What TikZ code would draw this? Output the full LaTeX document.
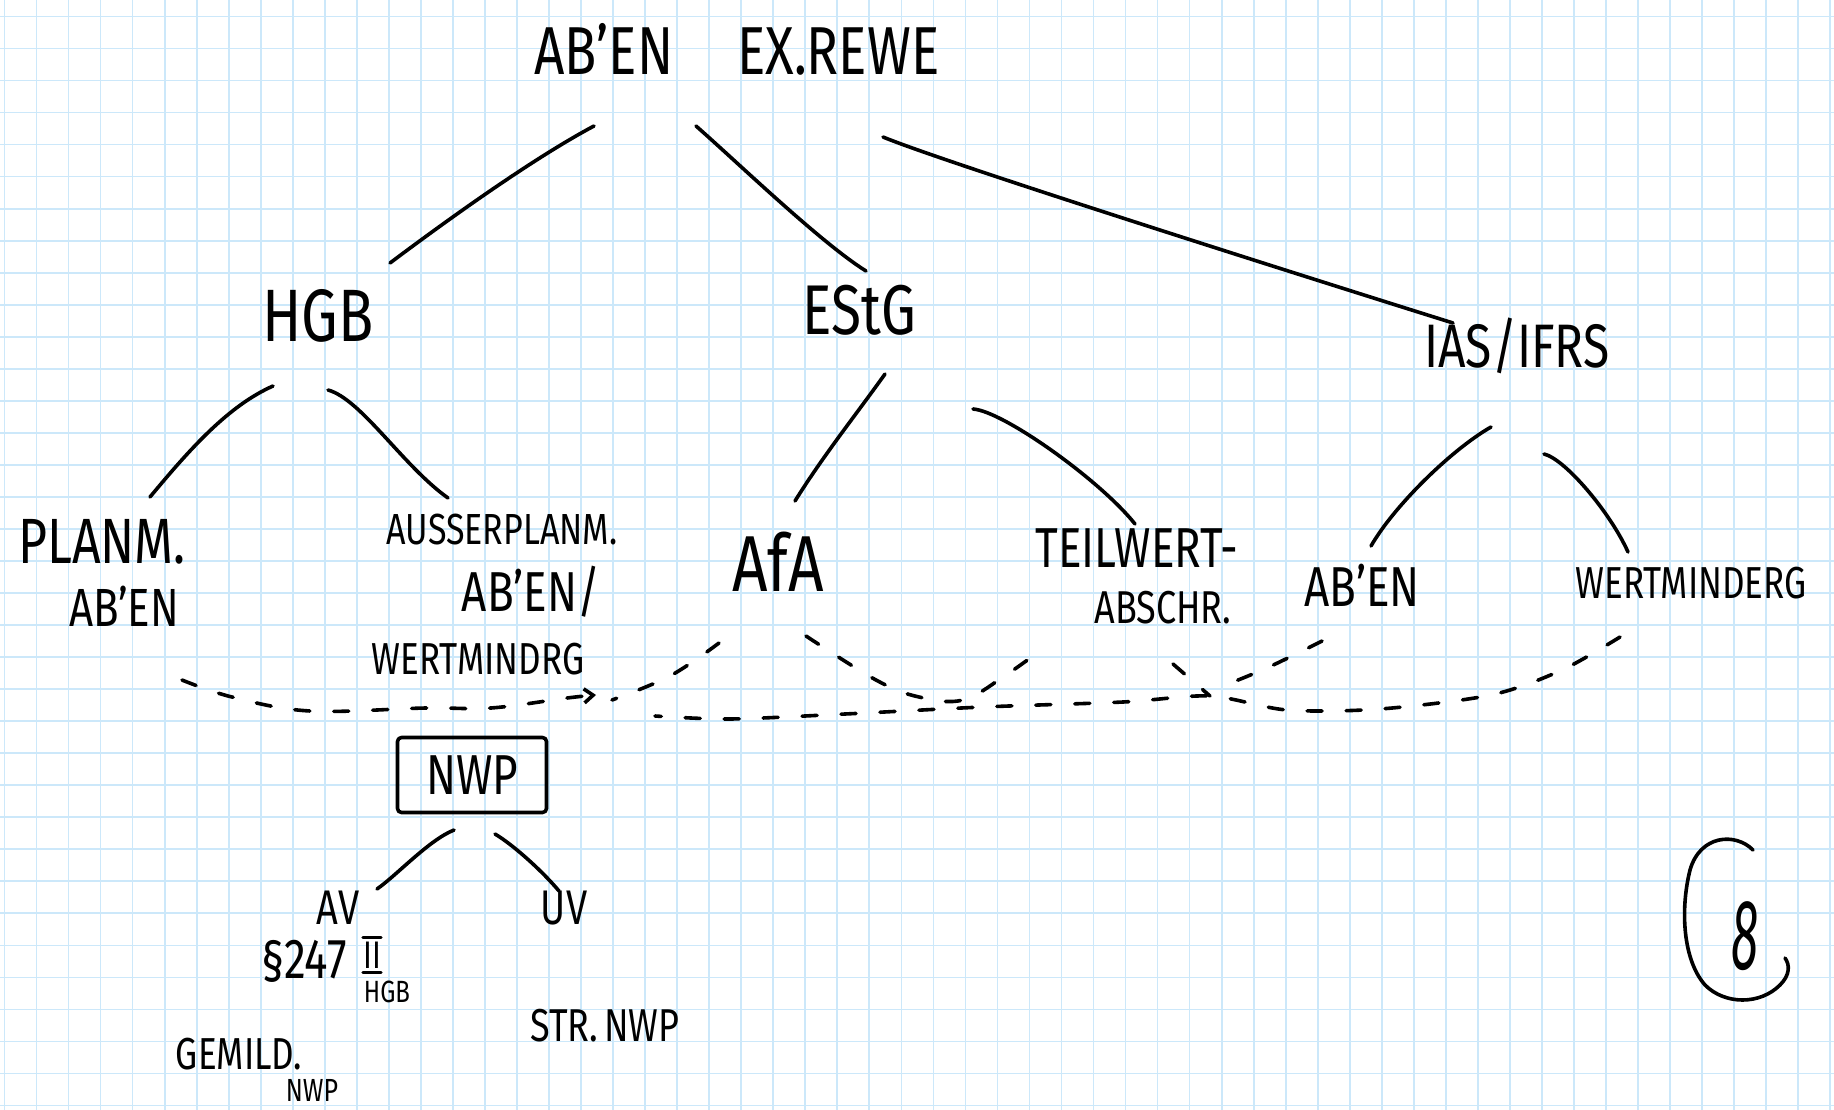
\documentclass[tikz,border=0pt]{standalone}
\usepackage{fontspec}
\setmainfont{Fira Sans}
\usetikzlibrary{calc,arrows.meta}
\definecolor{gridblue}{RGB}{204,232,250}
\newcommand\hw[1]{\scalebox{1}[1.28]{#1}}
\tikzset{
  pen/.style={line width=3.6pt, line cap=round, line join=round, draw=black},
  dashpen/.style={pen, dash pattern=on 15pt off 24pt},
  lbl/.style={inner sep=0pt, text=black, anchor=center},
  fs/.style={font=\fontsize{#1}{#1}\selectfont},
}
\begin{document}
\begin{tikzpicture}[x=1pt,y=-1pt]
\useasboundingbox (0,0) rectangle (1834,1110);
\fill[white] (0,0) rectangle (1834,1110);
\foreach \k in {0,...,57} \draw[gridblue, line width=1.7pt] ({4.5+32.03*\k},0) -- ({4.5+32.03*\k},1110);
\foreach \k in {0,...,34} \draw[gridblue, line width=1.7pt] (0,{16.5+32.03*\k}) -- (1834,{16.5+32.03*\k});

% nodes
\node[lbl,fs=53] (title) at (737,49) {\hw{AB'EN\hspace{64pt}EX.REWE}};
\node[lbl,fs=58] (hgb) at (318,316) {\hw{HGB}};
\node[lbl,fs=55] (estg) at (859,310) {\hw{EStG}};
\node[lbl,fs=48] (ias) at (1517,346) {\hw{IAS/IFRS}};
\node[lbl,fs=50] (planm) at (102,542) {\hw{PLANM.}};
\node[lbl,fs=42] (planm2) at (124,606) {\hw{AB'EN}};
\node[lbl,fs=34] (ausser) at (502,530) {\hw{AUSSERPLANM.}};
\node[lbl,fs=44] (ausser2) at (531,592) {\hw{AB'EN/}};
\node[lbl,fs=35] (ausser3) at (478,659) {\hw{WERTMINDRG}};
\node[lbl,fs=62] (afa) at (778,562) {\hw{AfA}};
\node[lbl,fs=44] (teil) at (1137,548) {\hw{TEILWERT-}};
\node[lbl,fs=36] (teil2) at (1163,608) {\hw{ABSCHR.}};
\node[lbl,fs=44] (ab2) at (1362,585) {\hw{AB'EN}};
\node[lbl,fs=35] (wert) at (1691,583) {\hw{WERTMINDERG}};
\node[pen,lbl,fs=44,minimum width=149pt,minimum height=75pt,rounded corners=4pt] (nwp) at (472,775) {\hw{NWP}};
\node[lbl,fs=38] (av) at (338,908) {\hw{AV}};
\node[lbl,fs=38] (uv) at (564,908) {\hw{UV}};
\node[lbl,fs=44] (para) at (304,961) {\hw{§247}};
\node[lbl,fs=30,inner ysep=4pt] (rom) at (372,955) {\hw{II}};
\draw[line width=3pt,line cap=round] (rom.north west) -- (rom.north east);
\draw[line width=3pt,line cap=round] (rom.south west) -- (rom.south east);
\node[lbl,fs=24] (hgbs) at (387,992) {\hw{HGB}};
\node[lbl,fs=35] (gemild) at (239,1054) {\hw{GEMILD.}};
\node[lbl,fs=25] (nwps) at (312,1090) {\hw{NWP}};
\node[lbl,fs=36] (str) at (605,1026) {\hw{STR.\,NWP}};
\node[lbl,fs=100] (eight) at (1745,936) {\itshape\scalebox{0.5}[1]{8}};

% tree connectors
\draw[pen] ($(title)+(-143,77)$) .. controls +(-62,33) and +(56,-42) .. ($(hgb)+(72,-53)$);
\draw[pen] ($(title)+(-41,77)$) .. controls +(40,35) and +(-45,-28) .. ($(estg)+(7,-39)$);
\draw[pen] ($(title)+(146,88)$) .. controls +(60,25) and +(-150,-47) .. ($(ias)+(-64,-23)$);
\draw[pen] ($(hgb)+(-45,70)$) .. controls +(-45,20) and +(40,-48) .. ($(planm)+(48,-45)$);
\draw[pen] ($(hgb)+(10,74)$) .. controls +(33,9) and +(-45,-32) .. ($(ausser)+(-54,-32)$);
\draw[pen] ($(estg)+(26,64)$) .. controls +(-30,42) and +(28,-45) .. ($(afa)+(17,-61)$);
\draw[pen] ($(estg)+(114,99)$) .. controls +(30,2) and +(-35,-44) .. ($(teil)+(-2,-24)$);
\draw[pen] ($(ias)+(-26,81)$) .. controls +(-40,23) and +(23,-40) .. ($(ab2)+(9,-39)$);
\draw[pen] ($(ias)+(27,108)$) .. controls +(21,5) and +(-18,-40) .. ($(wert)+(-63,-31)$);
\draw[pen] ($(nwp)+(-18,55)$) .. controls +(-25,10) and +(20,-14) .. ($(av)+(39,-19)$);
\draw[pen] ($(nwp)+(23,59)$) .. controls +(20,12) and +(-15,-18) .. ($(uv)+(-5,-17)$);

% dashed cross links
\coordinate (conv) at (612,700);
\coordinate (join) at (1210,696);
\draw[dashpen,-{Straight Barb[length=9pt,width=14pt]}] plot[smooth,tension=0.6] coordinates {($(planm2)+(58,74)$) (232,697) (310,711) (426,708) (491,708) (567,698) (596,695)};
\draw[dashpen] plot[smooth,tension=0.6] coordinates {($(afa)+(-59,81)$) (670,676) (conv)};
\draw[dashpen] plot[smooth,tension=0.6] coordinates {($(afa)+(28,74)$) (876,680) (919,697) (963,700) (1006,675) (1045,647)};
\draw[dashpen] plot[smooth,tension=0.5] coordinates {($(wert)+(-71,54)$) (1562,670) (1491,695) (1380,709) (1287,710) (join) (1123,702) (983,707) (845,714) (730,719) (655,716)};
\draw[dashpen] plot[smooth,tension=0.6] coordinates {($(teil2)+(10,56)$) (join)};
\draw[dashpen] plot[smooth,tension=0.6] coordinates {($(ab2)+(-40,56)$) (1269,667) (1228,684)};

% circle mark around the 8
\draw[pen] (1753,850) .. controls (1735,832) and (1700,835) .. (1690,870)
  .. controls (1680,910) and (1683,960) .. (1705,985)
  .. controls (1725,1005) and (1760,1005) .. (1780,985)
  .. controls (1790,975) and (1790,965) .. (1785,958);
\end{tikzpicture}
\end{document}
